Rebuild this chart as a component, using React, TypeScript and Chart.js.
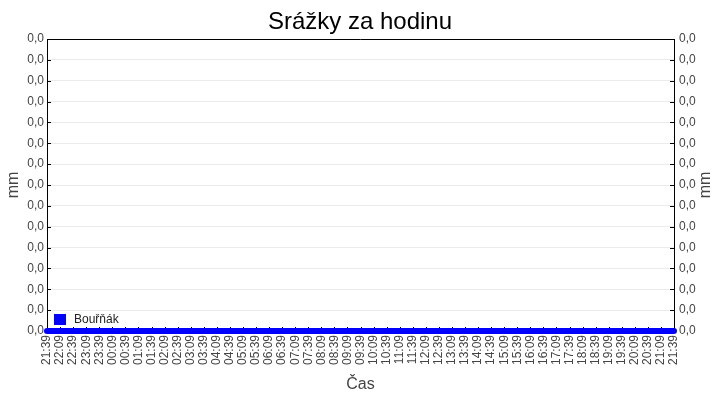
import { useEffect, useRef } from "react";
import { Chart, registerables } from "chart.js";

Chart.register(...registerables);

const FONT = "'Liberation Sans', Arial, sans-serif";

const timeLabels = [
  "21:39", "22:09", "22:39", "23:09", "23:39", "00:09", "00:39", "01:09", "01:39", "02:09",
  "02:39", "03:09", "03:39", "04:09", "04:39", "05:09", "05:39", "06:09", "06:39", "07:09",
  "07:39", "08:09", "08:39", "09:09", "09:39", "10:09", "10:39", "11:09", "11:39", "12:09",
  "12:39", "13:09", "13:39", "14:09", "14:39", "15:09", "15:39", "16:09", "16:39", "17:09",
  "17:39", "18:09", "18:39", "19:09", "19:39", "20:09", "20:39", "21:09", "21:39",
];

// srážky v mm, celý den nula
const rainValues = [
  0, 0, 0, 0, 0, 0, 0, 0, 0, 0,
  0, 0, 0, 0, 0, 0, 0, 0, 0, 0,
  0, 0, 0, 0, 0, 0, 0, 0, 0, 0,
  0, 0, 0, 0, 0, 0, 0, 0, 0, 0,
  0, 0, 0, 0, 0, 0, 0, 0, 0,
];

const seriesName = "Bouřňák";
const yMin = 0;
const yMax = 0.014;
const yStep = 0.001;

const fmt = (v: number) => Number(v).toFixed(1).replace(".", ",");

// inward tick marks, top border, right axis title, legend inside plot
const decorations = {
  id: "decorations",
  beforeDatasetsDraw(chart: any) {
    const { ctx, chartArea, scales } = chart;
    const { left, right, top, bottom } = chartArea;
    ctx.save();
    ctx.strokeStyle = "#000";
    ctx.lineWidth = 1;
    ctx.beginPath();
    scales.x.ticks.forEach((_: any, i: number) => {
      const px = Math.round(scales.x.getPixelForTick(i)) + 0.5;
      ctx.moveTo(px, bottom);
      ctx.lineTo(px, bottom - 4);
    });
    scales.y.ticks.forEach((_: any, i: number) => {
      const py = Math.round(scales.y.getPixelForTick(i)) + 0.5;
      ctx.moveTo(left, py);
      ctx.lineTo(left + 4, py);
    });
    scales.y2.ticks.forEach((_: any, i: number) => {
      const py = Math.round(scales.y2.getPixelForTick(i)) + 0.5;
      ctx.moveTo(right - 4, py);
      ctx.lineTo(right, py);
    });
    ctx.moveTo(left, Math.round(top) + 0.5);
    ctx.lineTo(right, Math.round(top) + 0.5);
    ctx.stroke();

    ctx.fillStyle = "#444";
    ctx.font = `16px ${FONT}`;
    ctx.textAlign = "center";
    ctx.textBaseline = "middle";
    ctx.translate(706, (top + bottom) / 2);
    ctx.rotate(-Math.PI / 2);
    ctx.fillText("mm", 0, 0);
    ctx.restore();
  },
  afterDatasetsDraw(chart: any) {
    const { ctx, chartArea } = chart;
    const ds = chart.data.datasets[0];
    ctx.save();
    ctx.fillStyle = ds.borderColor;
    ctx.fillRect(chartArea.left + 7, chartArea.bottom - 17, 12, 11);
    ctx.fillStyle = "#222";
    ctx.font = `12px ${FONT}`;
    ctx.textAlign = "left";
    ctx.textBaseline = "middle";
    ctx.fillText(ds.label, chartArea.left + 27, chartArea.bottom - 11.5);
    ctx.restore();
  },
};

export default function App() {
  const canvasRef = useRef<HTMLCanvasElement>(null);
  const chartRef = useRef<Chart | null>(null);

  useEffect(() => {
    document.body.style.margin = "0";
    if (!canvasRef.current) return;
    if (chartRef.current) chartRef.current.destroy();
    const ctx = canvasRef.current.getContext("2d");
    if (!ctx) return;

    const tickFont = { family: FONT, size: 12 };

    chartRef.current = new Chart(ctx, {
      type: "line",
      data: {
        labels: timeLabels,
        datasets: [
          {
            label: seriesName,
            data: rainValues,
            borderColor: "#0000FF",
            backgroundColor: "#0000FF",
            borderWidth: 6,
            pointRadius: 3,
            pointBorderWidth: 0,
            pointBackgroundColor: "#0000FF",
            tension: 0,
            clip: false as any,
            yAxisID: "y",
          },
        ],
      },
      options: {
        responsive: true,
        maintainAspectRatio: false,
        animation: false,
        layout: { padding: 0 },
        plugins: {
          legend: { display: false },
          tooltip: { enabled: false },
          title: {
            display: true,
            text: "Srážky za hodinu",
            color: "#000",
            font: { family: FONT, size: 24, weight: "normal" },
            padding: { top: 8, bottom: 2.2 },
          },
        },
        scales: {
          x: {
            type: "category",
            offset: false,
            grid: { display: false, drawTicks: false },
            border: { display: true, color: "#000" },
            ticks: {
              color: "#444",
              font: tickFont,
              autoSkip: false,
              minRotation: 90,
              maxRotation: 90,
              padding: 4,
            },
            title: {
              display: true,
              text: "Čas",
              color: "#444",
              font: { family: FONT, size: 16 },
              padding: { top: 0, bottom: 6 },
            },
            afterFit(scale: any) {
              scale.height = 69;
            },
          },
          y: {
            type: "linear",
            position: "left",
            min: yMin,
            max: yMax,
            grid: { display: true, color: "#ebebeb", drawTicks: false },
            border: { display: true, color: "#000" },
            ticks: { stepSize: yStep, color: "#444", font: tickFont, padding: 3, callback: (v: any) => fmt(v) },
            title: {
              display: true,
              text: "mm",
              color: "#444",
              font: { family: FONT, size: 16 },
              padding: 4,
            },
            afterFit(scale: any) {
              scale.width = 47;
            },
          },
          y2: {
            type: "linear",
            position: "right",
            min: yMin,
            max: yMax,
            grid: { display: false, drawTicks: false },
            border: { display: true, color: "#000" },
            ticks: { stepSize: yStep, color: "#444", font: tickFont, padding: 5, callback: (v: any) => fmt(v) },
            afterFit(scale: any) {
              scale.width = 46;
            },
          },
        },
      },
      plugins: [decorations],
    });

    return () => {
      if (chartRef.current) {
        chartRef.current.destroy();
        chartRef.current = null;
      }
    };
  }, []);

  return (
    <div style={{ width: 720, height: 400, position: "relative", background: "#fff" }}>
      <canvas ref={canvasRef}></canvas>
    </div>
  );
}
